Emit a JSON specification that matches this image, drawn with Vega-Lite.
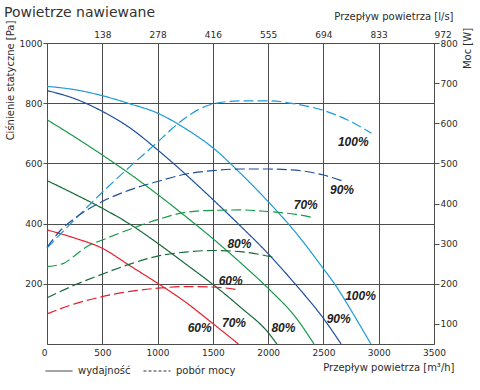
{
  "$schema": "https://vega.github.io/schema/vega-lite/v6.json",
  "width": 387,
  "height": 301,
  "autosize": "none",
  "padding": {"left": 47, "top": 43, "right": 46, "bottom": 46},
  "background": "white",
  "title": {"text": "Powietrze nawiewane", "anchor": "start", "frame": "group", "font": "DejaVu Sans", "fontSize": 14, "fontWeight": "normal", "color": "#333333", "dx": -43, "dy": 20, "baseline": "alphabetic", "offset": 0},
  "config": {
    "view": {"stroke": null},
    "axis": {"domainColor": "#4d4d4d", "gridColor": "#4d4d4d", "tickColor": "#4d4d4d", "gridOpacity": 1, "domainWidth": 1, "gridWidth": 1, "labelFont": "DejaVu Sans", "labelFontSize": 9, "labelColor": "#2b2b2b", "titleFont": "DejaVu Sans", "titleFontSize": 10, "titleFontWeight": "normal", "titleColor": "#2b2b2b"},
    "legend": {"labelFont": "DejaVu Sans", "labelFontSize": 10, "labelColor": "#2b2b2b"}
  },
  "datasets": {
    "wyd": [
      {"q": 0, "p": 856, "bieg": "100%", "typ": "wydajność"}, {"q": 250, "p": 845, "bieg": "100%", "typ": "wydajność"}, {"q": 500, "p": 825, "bieg": "100%", "typ": "wydajność"}, {"q": 750, "p": 798, "bieg": "100%", "typ": "wydajność"}, {"q": 1000, "p": 767, "bieg": "100%", "typ": "wydajność"}, {"q": 1250, "p": 716, "bieg": "100%", "typ": "wydajność"}, {"q": 1500, "p": 652, "bieg": "100%", "typ": "wydajność"}, {"q": 1750, "p": 567, "bieg": "100%", "typ": "wydajność"}, {"q": 2000, "p": 473, "bieg": "100%", "typ": "wydajność"}, {"q": 2250, "p": 370, "bieg": "100%", "typ": "wydajność"}, {"q": 2500, "p": 250, "bieg": "100%", "typ": "wydajność"}, {"q": 2600, "p": 200, "bieg": "100%", "typ": "wydajność"}, {"q": 2750, "p": 112, "bieg": "100%", "typ": "wydajność"}, {"q": 2850, "p": 50, "bieg": "100%", "typ": "wydajność"}, {"q": 2930, "p": 0, "bieg": "100%", "typ": "wydajność"},
      {"q": 0, "p": 842, "bieg": "90%", "typ": "wydajność"}, {"q": 250, "p": 815, "bieg": "90%", "typ": "wydajność"}, {"q": 500, "p": 773, "bieg": "90%", "typ": "wydajność"}, {"q": 750, "p": 718, "bieg": "90%", "typ": "wydajność"}, {"q": 1000, "p": 645, "bieg": "90%", "typ": "wydajność"}, {"q": 1250, "p": 565, "bieg": "90%", "typ": "wydajność"}, {"q": 1500, "p": 480, "bieg": "90%", "typ": "wydajność"}, {"q": 1750, "p": 392, "bieg": "90%", "typ": "wydajność"}, {"q": 2000, "p": 300, "bieg": "90%", "typ": "wydajność"}, {"q": 2250, "p": 197, "bieg": "90%", "typ": "wydajność"}, {"q": 2500, "p": 85, "bieg": "90%", "typ": "wydajność"}, {"q": 2660, "p": 0, "bieg": "90%", "typ": "wydajność"},
      {"q": 0, "p": 745, "bieg": "80%", "typ": "wydajność"}, {"q": 250, "p": 688, "bieg": "80%", "typ": "wydajność"}, {"q": 500, "p": 628, "bieg": "80%", "typ": "wydajność"}, {"q": 750, "p": 565, "bieg": "80%", "typ": "wydajność"}, {"q": 1000, "p": 497, "bieg": "80%", "typ": "wydajność"}, {"q": 1250, "p": 425, "bieg": "80%", "typ": "wydajność"}, {"q": 1500, "p": 350, "bieg": "80%", "typ": "wydajność"}, {"q": 1750, "p": 270, "bieg": "80%", "typ": "wydajność"}, {"q": 2000, "p": 185, "bieg": "80%", "typ": "wydajność"}, {"q": 2250, "p": 88, "bieg": "80%", "typ": "wydajność"}, {"q": 2415, "p": 0, "bieg": "80%", "typ": "wydajność"},
      {"q": 0, "p": 543, "bieg": "70%", "typ": "wydajność"}, {"q": 250, "p": 498, "bieg": "70%", "typ": "wydajność"}, {"q": 500, "p": 451, "bieg": "70%", "typ": "wydajność"}, {"q": 750, "p": 398, "bieg": "70%", "typ": "wydajność"}, {"q": 1000, "p": 335, "bieg": "70%", "typ": "wydajność"}, {"q": 1250, "p": 267, "bieg": "70%", "typ": "wydajność"}, {"q": 1500, "p": 198, "bieg": "70%", "typ": "wydajność"}, {"q": 1750, "p": 122, "bieg": "70%", "typ": "wydajność"}, {"q": 2000, "p": 38, "bieg": "70%", "typ": "wydajność"}, {"q": 2079, "p": 0, "bieg": "70%", "typ": "wydajność"},
      {"q": 0, "p": 379, "bieg": "60%", "typ": "wydajność"}, {"q": 250, "p": 352, "bieg": "60%", "typ": "wydajność"}, {"q": 500, "p": 318, "bieg": "60%", "typ": "wydajność"}, {"q": 750, "p": 260, "bieg": "60%", "typ": "wydajność"}, {"q": 1000, "p": 202, "bieg": "60%", "typ": "wydajność"}, {"q": 1250, "p": 140, "bieg": "60%", "typ": "wydajność"}, {"q": 1500, "p": 68, "bieg": "60%", "typ": "wydajność"}, {"q": 1731, "p": 0, "bieg": "60%", "typ": "wydajność"}
    ],
    "moc": [
      {"q": 0, "w": 289, "bieg": "100%"}, {"q": 250, "w": 360, "bieg": "100%"}, {"q": 500, "w": 428, "bieg": "100%"}, {"q": 750, "w": 492, "bieg": "100%"}, {"q": 1000, "w": 553, "bieg": "100%"}, {"q": 1125, "w": 585, "bieg": "100%"}, {"q": 1250, "w": 613, "bieg": "100%"}, {"q": 1375, "w": 635, "bieg": "100%"}, {"q": 1500, "w": 648, "bieg": "100%"}, {"q": 1625, "w": 654, "bieg": "100%"}, {"q": 1750, "w": 656, "bieg": "100%"}, {"q": 2000, "w": 656, "bieg": "100%"}, {"q": 2250, "w": 648, "bieg": "100%"}, {"q": 2500, "w": 632, "bieg": "100%"}, {"q": 2750, "w": 604, "bieg": "100%"}, {"q": 2935, "w": 575, "bieg": "100%"},
      {"q": 0, "w": 291, "bieg": "90%"}, {"q": 125, "w": 334, "bieg": "90%"}, {"q": 250, "w": 363, "bieg": "90%"}, {"q": 500, "w": 405, "bieg": "90%"}, {"q": 750, "w": 434, "bieg": "90%"}, {"q": 1000, "w": 455, "bieg": "90%"}, {"q": 1250, "w": 473, "bieg": "90%"}, {"q": 1500, "w": 482, "bieg": "90%"}, {"q": 1750, "w": 486, "bieg": "90%"}, {"q": 2000, "w": 486, "bieg": "90%"}, {"q": 2250, "w": 483, "bieg": "90%"}, {"q": 2500, "w": 471, "bieg": "90%"}, {"q": 2665, "w": 457, "bieg": "90%"},
      {"q": 0, "w": 243, "bieg": "80%"}, {"q": 150, "w": 251, "bieg": "80%"}, {"q": 250, "w": 270, "bieg": "80%"}, {"q": 362, "w": 293, "bieg": "80%"}, {"q": 500, "w": 309, "bieg": "80%"}, {"q": 750, "w": 336, "bieg": "80%"}, {"q": 1000, "w": 360, "bieg": "80%"}, {"q": 1250, "w": 378, "bieg": "80%"}, {"q": 1500, "w": 383, "bieg": "80%"}, {"q": 1750, "w": 384, "bieg": "80%"}, {"q": 2000, "w": 380, "bieg": "80%"}, {"q": 2250, "w": 373, "bieg": "80%"}, {"q": 2408, "w": 365, "bieg": "80%"},
      {"q": 0, "w": 165, "bieg": "70%"}, {"q": 250, "w": 197, "bieg": "70%"}, {"q": 500, "w": 224, "bieg": "70%"}, {"q": 750, "w": 249, "bieg": "70%"}, {"q": 1000, "w": 269, "bieg": "70%"}, {"q": 1250, "w": 279, "bieg": "70%"}, {"q": 1500, "w": 283, "bieg": "70%"}, {"q": 1750, "w": 280, "bieg": "70%"}, {"q": 2070, "w": 265, "bieg": "70%"},
      {"q": 0, "w": 125, "bieg": "60%"}, {"q": 250, "w": 150, "bieg": "60%"}, {"q": 500, "w": 168, "bieg": "60%"}, {"q": 750, "w": 181, "bieg": "60%"}, {"q": 1000, "w": 189, "bieg": "60%"}, {"q": 1250, "w": 193, "bieg": "60%"}, {"q": 1500, "w": 192, "bieg": "60%"}, {"q": 1732, "w": 185, "bieg": "60%"}
    ],
    "etyk": [
      {"q": 1381, "p": 53, "t": "60%"}, {"q": 1691, "p": 69, "t": "70%"}, {"q": 2138, "p": 53, "t": "80%"}, {"q": 2638, "p": 83, "t": "90%"}, {"q": 2835, "p": 161, "t": "100%"},
      {"q": 2770, "p": 670, "t": "100%"}, {"q": 2668, "p": 512, "t": "90%"}, {"q": 2340, "p": 463, "t": "70%"}, {"q": 1740, "p": 332, "t": "80%"}, {"q": 1661, "p": 210, "t": "60%"}
    ]
  },
  "layer": [
    {
      "data": {"name": "wyd"},
      "mark": {"type": "line", "interpolate": "monotone", "strokeWidth": 1.2},
      "encoding": {
        "x": {"field": "q", "type": "quantitative", "scale": {"domain": [0, 3500], "nice": false, "zero": false},
          "axis": {"orient": "bottom", "values": [0, 500, 1000, 1500, 2000, 2500, 3000, 3500], "format": "d", "grid": true, "tickSize": 0, "labelPadding": 4,
            "labelAlign": {"condition": {"test": "datum.value == 0", "value": "right"}, "value": "center"},
            "title": "Przepływ powietrza [m³/h]", "titleX": 407, "titleY": 23, "titleAlign": "right", "titleBaseline": "middle"}},
        "y": {"field": "p", "type": "quantitative", "scale": {"domain": [0, 1000], "nice": false},
          "axis": {"orient": "left", "values": [200, 400, 600, 800, 1000], "format": "d", "grid": true, "tickSize": 4, "labelPadding": 1,
            "title": "Ciśnienie statyczne [Pa]", "titleAngle": 270, "titleX": -37, "titleY": 37, "titleAlign": "center", "titleBaseline": "middle"}},
        "color": {"field": "bieg", "type": "nominal", "scale": {"domain": ["60%", "70%", "80%", "90%", "100%"], "range": ["#e61e2b", "#17693a", "#199a4a", "#1f4f9c", "#1e9ad6"]}, "legend": null},
        "strokeDash": {"field": "typ", "type": "nominal", "scale": {"domain": ["wydajność", "pobór mocy"], "range": [[1, 0], [3, 2]]},
          "legend": {"title": null, "orient": "none", "legendX": -2, "legendY": 314, "direction": "horizontal", "symbolType": "stroke", "symbolSize": 729, "symbolStrokeColor": "#333333", "symbolStrokeWidth": 1, "labelOffset": 5, "columnPadding": 10, "padding": 0}}
      }
    },
    {
      "data": {"name": "moc"},
      "mark": {"type": "line", "interpolate": "monotone", "strokeWidth": 1.2, "strokeDash": [10, 4]},
      "encoding": {
        "x": {"field": "q", "type": "quantitative", "scale": {"domain": [0, 3500], "nice": false, "zero": false},
          "axis": {"orient": "top", "values": [500, 1000, 1500, 2000, 2500, 3000, 3500], "grid": false, "tickSize": 0, "labelPadding": 4,
            "labelExpr": "datum.value == 500 ? '138' : datum.value == 1000 ? '278' : datum.value == 1500 ? '416' : datum.value == 2000 ? '555' : datum.value == 2500 ? '694' : datum.value == 3000 ? '833' : '972'",
            "labelAlign": {"condition": {"test": "datum.value == 3500", "value": "left"}, "value": "center"},
            "title": "Przepływ powietrza [l/s]", "titleX": 406, "titleY": -27, "titleAlign": "right", "titleBaseline": "middle"}},
        "y": {"field": "w", "type": "quantitative", "scale": {"domain": [50, 800], "nice": false, "zero": false},
          "axis": {"orient": "right", "values": [100, 200, 300, 400, 500, 600, 700, 800], "grid": false, "tickSize": 5, "labelPadding": 1,
            "title": "Moc [W]", "titleAngle": 270, "titleX": 33, "titleY": 5, "titleAlign": "center", "titleBaseline": "middle"}},
        "color": {"field": "bieg", "type": "nominal", "scale": {"domain": ["60%", "70%", "80%", "90%", "100%"], "range": ["#e61e2b", "#17693a", "#199a4a", "#1f4f9c", "#1e9ad6"]}, "legend": null}
      }
    },
    {
      "data": {"name": "etyk"},
      "mark": {"type": "text", "font": "Liberation Sans", "fontSize": 12, "fontWeight": "bold", "fontStyle": "italic", "color": "#222222", "align": "center", "baseline": "middle"},
      "encoding": {
        "x": {"field": "q", "type": "quantitative", "scale": {"domain": [0, 3500], "nice": false, "zero": false}, "axis": null},
        "y": {"field": "p", "type": "quantitative", "scale": {"domain": [0, 1000], "nice": false}, "axis": null},
        "text": {"field": "t", "type": "nominal"}
      }
    }
  ],
  "resolve": {"scale": {"y": "independent"}, "axis": {"x": "independent", "y": "independent"}}
}
